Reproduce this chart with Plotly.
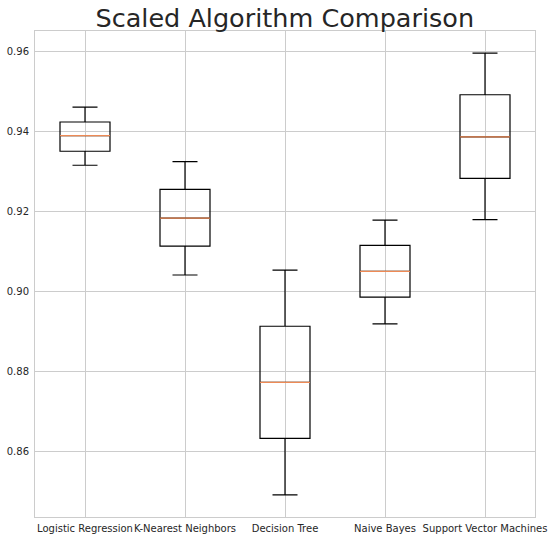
import plotly.graph_objects as go

categories = ["Logistic Regression", "K-Nearest Neighbors", "Decision Tree", "Naive Bayes", "Support Vector Machines"]
lower_whisker = [0.9315, 0.9041, 0.8492, 0.8919, 0.9179]
q1_values = [0.9350, 0.9113, 0.8633, 0.8986, 0.9282]
median_values = [0.9389, 0.9183, 0.8773, 0.9050, 0.9386]
q3_values = [0.9423, 0.9255, 0.8913, 0.9115, 0.9491]
upper_whisker = [0.9460, 0.9324, 0.9053, 0.9178, 0.9595]
y_ticks = [0.86, 0.88, 0.90, 0.92, 0.94, 0.96]

positions = list(range(len(categories)))
box_width = 0.5

fig = go.Figure()
fig.add_trace(go.Box(
    x=positions,
    q1=q1_values, median=median_values, q3=q3_values,
    lowerfence=lower_whisker, upperfence=upper_whisker,
    width=box_width, whiskerwidth=0.5,
    line=dict(color="black", width=1.2),
    fillcolor="rgba(0,0,0,0)",
    boxpoints=False, showlegend=False, hoverinfo="skip",
))

mx, my = [], []
for p, m in zip(positions, median_values):
    mx += [p - box_width / 2, p + box_width / 2, None]
    my += [m, m, None]
fig.add_trace(go.Scatter(x=mx, y=my, mode="lines",
                         line=dict(color="#ee8a55", width=1.3),
                         showlegend=False, hoverinfo="skip"))

ymin = min(lower_whisker); ymax = max(upper_whisker)
pad = (ymax - ymin) * 0.05

fig.update_layout(
    width=553, height=541,
    margin=dict(l=35, r=18, t=31, b=24),
    paper_bgcolor="white", plot_bgcolor="white",
    font=dict(family="DejaVu Sans", color="#262626", size=10),
    title=dict(text="Scaled Algorithm Comparison", x=0.515, xanchor="center",
               y=0.9665, yanchor="middle", font=dict(size=25.5, color="#262626")),
)
fig.update_xaxes(
    range=[-0.5, len(categories) - 0.5],
    tickmode="array", tickvals=positions, ticktext=categories,
    showgrid=True, gridcolor="#cccccc", gridwidth=1,
    showline=True, linecolor="#cccccc", linewidth=1, mirror=True,
    zeroline=False, ticks="", tickfont=dict(size=10), tickangle=0,
    automargin=False, ticklabelstandoff=2,
)
fig.update_yaxes(
    range=[ymin - pad, ymax + pad],
    tickmode="array", tickvals=y_ticks, ticktext=[f"{v:.2f}" for v in y_ticks],
    showgrid=True, gridcolor="#cccccc", gridwidth=1,
    showline=True, linecolor="#cccccc", linewidth=1, mirror=True,
    zeroline=False, ticks="", tickfont=dict(size=10), automargin=False,
    ticklabelstandoff=3,
)

fig.write_html("out.html", config={"displayModeBar": False},
               post_script="document.body.style.margin='0';document.body.style.overflow='hidden';")
